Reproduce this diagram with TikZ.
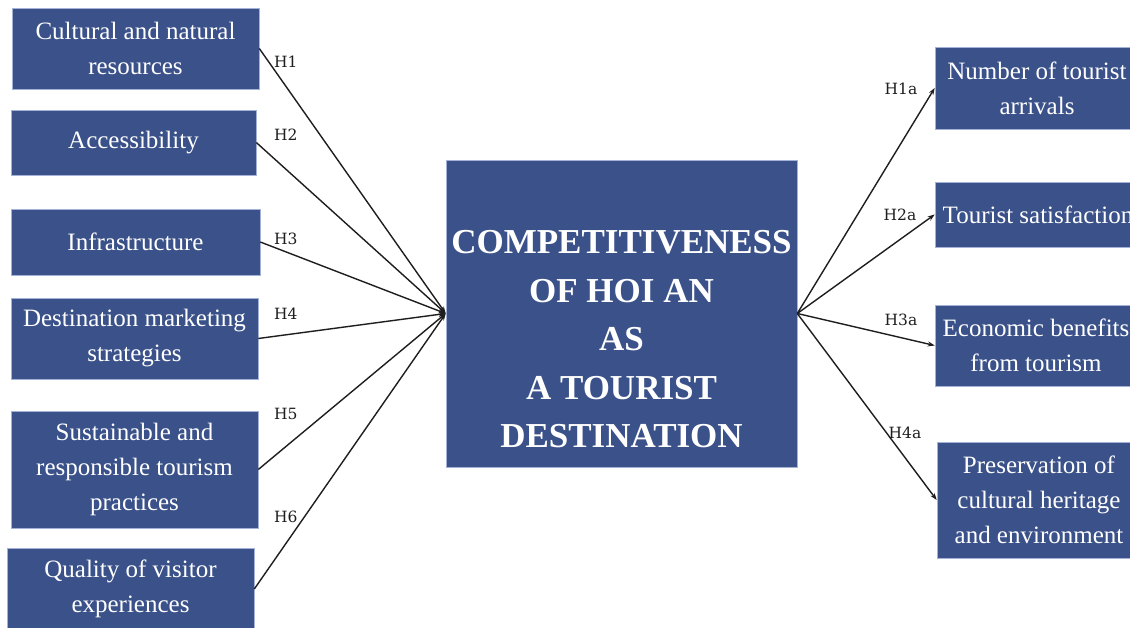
\documentclass[tikz,border=0pt]{standalone}
\usepackage{fontspec}
\setmainfont{Liberation Serif}
\newfontfamily\hypfont{DejaVu Serif}
\usetikzlibrary{arrows.meta}
\definecolor{boxblue}{HTML}{3A5189}
\definecolor{boxedge}{HTML}{A3B2D6}
\definecolor{ink}{HTML}{1E1E1E}
\begin{document}
\begin{tikzpicture}[x=1pt,y=-1pt,
  box/.style={rectangle, fill=boxblue, draw=boxedge, line width=0.6pt, text=white, align=center, inner sep=0pt, font=\fontsize{25}{35}\selectfont},
  conn/.style={draw=ink, line width=1.4pt, -{Stealth[length=7pt,width=5pt]}},
  hyp/.style={text=ink, font=\hypfont\fontsize{15.5}{18}\selectfont, inner sep=0pt}]
\useasboundingbox (0,0) rectangle (1130,628);
\clip (0,0) rectangle (1130,628);
\fill[white] (0,0) rectangle (1130,628);
% left boxes
\node[box, minimum width=247pt, minimum height=81pt] (L1) at (135.5,48.5) {Cultural and natural\\resources};
\node[box, minimum width=245pt, minimum height=65pt] (L2) at (133.5,142.5) {Accessibility};
\node[box, minimum width=249pt, minimum height=66pt] (L3) at (135.5,242) {Infrastructure};
\node[box, minimum width=247pt, minimum height=81pt] (L4) at (134.5,338.5) {Destination marketing\\strategies};
\node[box, minimum width=247pt, minimum height=117pt] (L5) at (134.5,469.5) {Sustainable and\\responsible tourism\\practices};
\node[box, minimum width=247pt, minimum height=82pt] (L6) at (130.5,589) {Quality of visitor\\experiences};
% centre
\node[box, minimum width=351pt, minimum height=307pt] (C) at (621.5,313.5) {};
\node[text=white, align=center, inner sep=0pt, font=\fontsize{35}{48.5}\selectfont\bfseries] (Ct) at (621.5,339.5) {COMPETITIVENESS\\OF HOI AN\\AS\\A TOURIST\\DESTINATION};
% right boxes
\node[box, minimum width=204pt, minimum height=82pt] (R1) at (1037,88) {Number of tourist\\arrivals};
\node[box, minimum width=206pt, minimum height=65pt] (R2) at (1038,214.5) {Tourist satisfaction};
\node[box, minimum width=202pt, minimum height=81pt] (R3) at (1036,345.5) {Economic benefits\\from tourism};
\node[box, minimum width=204pt, minimum height=116pt] (R4) at (1039,500) {Preservation of\\cultural heritage\\and environment};
% connectors
\foreach \i in {1,...,6} \draw[conn] (L\i.east) -- (C.west);
\foreach \i in {1,...,4} \draw[conn] (C.east) -- (R\i.west);
% labels
\node[hyp, anchor=west] (h1) at (274,61.5) {H1};
\node[hyp, anchor=west] (h2) at (274,135) {H2};
\node[hyp, anchor=west] (h3) at (274,239) {H3};
\node[hyp, anchor=west] (h4) at (274,314) {H4};
\node[hyp, anchor=west] (h5) at (274,413.5) {H5};
\node[hyp, anchor=west] (h6) at (274,517) {H6};
\node[hyp] (h1a) at (901,88.5) {H1a};
\node[hyp] (h2a) at (900,215) {H2a};
\node[hyp] (h3a) at (901,320) {H3a};
\node[hyp] (h4a) at (905,432.5) {H4a};
\end{tikzpicture}
\end{document}
